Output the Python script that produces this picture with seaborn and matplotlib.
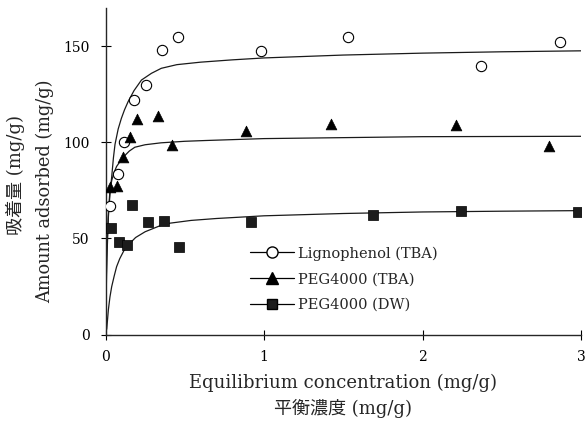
import numpy as np
import pandas as pd
import matplotlib
matplotlib.use("Agg")
import matplotlib.pyplot as plt
from matplotlib.lines import Line2D
import seaborn as sns

# ---- data ----
series_names = ["Lignophenol (TBA)", "PEG4000 (TBA)", "PEG4000 (DW)"]

lig_x = [0.028, 0.078, 0.116, 0.178, 0.254, 0.354, 0.46, 0.98, 1.53, 2.37, 2.87]
lig_y = [66.9, 83.6, 100.3, 122.1, 129.9, 148.2, 155.0, 147.7, 155.0, 139.8, 152.3]

tba_x = [0.028, 0.072, 0.11, 0.153, 0.20, 0.33, 0.42, 0.886, 1.42, 2.21, 2.80]
tba_y = [76.8, 77.3, 92.4, 102.9, 112.2, 113.8, 98.7, 106.0, 109.6, 109.1, 98.2]

dw_x = [0.034, 0.085, 0.133, 0.17, 0.27, 0.366, 0.466, 0.92, 1.69, 2.24, 2.98]
dw_y = [55.5, 48.2, 46.6, 67.4, 58.6, 59.1, 45.6, 58.6, 62.2, 64.3, 63.8]

# fitted curves
lig_fit_x = [0, 0.004, 0.009, 0.018, 0.028, 0.039, 0.05, 0.06, 0.08, 0.1, 0.12, 0.143,
             0.18, 0.227, 0.29, 0.352, 0.45, 0.6, 0.8, 1.0, 1.5, 2.0, 2.5, 3.0]
lig_fit_y = [0, 20, 40, 61, 73, 82, 92, 99, 107, 112.5, 117, 121.3,
             127, 132.5, 136, 138.6, 140.5, 141.8, 143, 144, 145.5, 146.5, 147.2, 147.7]

tba_fit_x = [0, 0.004, 0.009, 0.018, 0.028, 0.04, 0.055, 0.07, 0.091, 0.12, 0.15, 0.185,
             0.25, 0.35, 0.5, 0.63, 1.0, 1.5, 2.0, 2.5, 3.0]
tba_fit_y = [0, 25, 45, 63, 75, 80.5, 84.5, 87.5, 90, 93, 95.5, 97.5,
             98.8, 99.8, 100.6, 101, 102, 102.5, 103, 103.1, 103.2]

dw_fit_x = [0, 0.008, 0.018, 0.028, 0.039, 0.055, 0.07, 0.09, 0.115, 0.143, 0.19, 0.25,
            0.373, 0.54, 0.7, 1.0, 1.5, 2.0, 2.5, 3.0]
dw_fit_y = [0, 3, 12.8, 19.5, 24.9, 30.5, 35.3, 39.5, 43.5, 46.6, 50.5, 53.5,
            57.6, 59.4, 60.4, 61.8, 63, 63.8, 64.2, 64.5]

x_ticks = [0, 1, 2, 3]
y_ticks = [0, 50, 100, 150]

# ---- styling ----
sns.set_style("ticks")
plt.rcParams["font.family"] = ["DejaVu Serif", "Noto Sans CJK JP"]
plt.rcParams["axes.linewidth"] = 1.0

fig = plt.figure(figsize=(5.87, 4.29), dpi=100)
x0, x1, y0, y1 = 105.5, 581.0, 334.5, 8.0
ax = fig.add_axes([x0 / 587, 1 - y0 / 429, (x1 - x0) / 587, (y0 - y1) / 429])

curve_color = "#1a1a1a"
for fx, fy in [(lig_fit_x, lig_fit_y), (tba_fit_x, tba_fit_y), (dw_fit_x, dw_fit_y)]:
    sns.lineplot(x=fx, y=fy, ax=ax, color=curve_color, linewidth=0.9, zorder=2,
                 estimator=None, sort=False)

sns.scatterplot(x=lig_x, y=lig_y, ax=ax, marker="o", s=55, facecolor="white",
                edgecolor="black", linewidth=0.8, zorder=3)
sns.scatterplot(x=tba_x, y=tba_y, ax=ax, marker="^", s=60, color="black",
                edgecolor="black", linewidth=0.5, zorder=3)
sns.scatterplot(x=dw_x, y=dw_y, ax=ax, marker="s", s=42, color="#1c1c1c",
                edgecolor="black", linewidth=0.5, zorder=3)

ax.set_xlim(0, 3)
ax.set_ylim(0, 170)
ax.set_xticks(x_ticks)
ax.set_xticklabels([str(v) for v in x_ticks])
ax.set_yticks(y_ticks)
ax.set_yticklabels([str(v) for v in y_ticks])
ax.tick_params(direction="inout", length=7, width=0.8, labelsize=10, pad=8, colors="black")
sns.despine(ax=ax)

ax.set_xlabel("Equilibrium concentration (mg/g)\n平衡濃度 (mg/g)", fontsize=13,
              linespacing=1.4, labelpad=7)
ax.set_ylabel("")
fig.text(15 / 587, 1 - 175 / 429, "吸着量 (mg/g)", rotation=90, fontsize=13,
         ha="center", va="center")
fig.text(45 / 587, 1 - 191 / 429, "Amount adsorbed (mg/g)", rotation=90, fontsize=12.8,
         ha="center", va="center")

handles = [
    Line2D([], [], color="black", lw=0.9, marker="o", markersize=8,
           markerfacecolor="white", markeredgecolor="black"),
    Line2D([], [], color="black", lw=0.9, marker="^", markersize=8,
           markerfacecolor="black", markeredgecolor="black"),
    Line2D([], [], color="black", lw=0.9, marker="s", markersize=7,
           markerfacecolor="#1c1c1c", markeredgecolor="black"),
]
ax.legend(handles, series_names, loc="upper left",
          bbox_to_anchor=((240 - x0) / (x1 - x0), (y0 - 236) / (y0 - y1)),
          frameon=False, fontsize=10.5, handlelength=3.0, handletextpad=0.3,
          labelspacing=0.8, borderpad=0.2)

fig.savefig("out.png", dpi=100)
